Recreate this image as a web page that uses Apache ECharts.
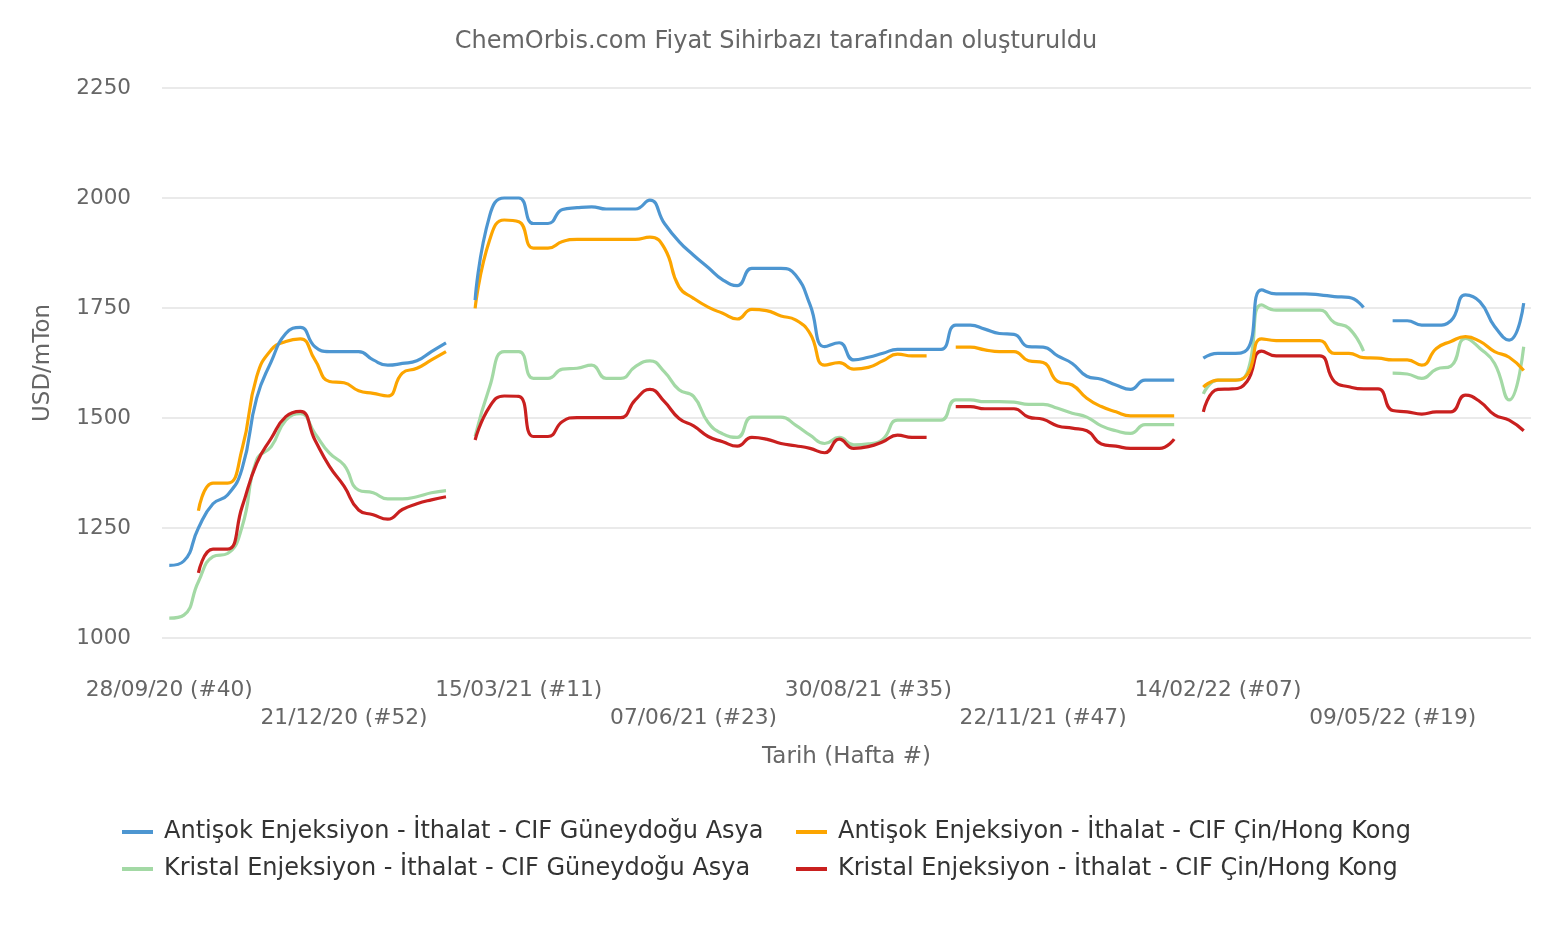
<!DOCTYPE html>
<html>
<head>
<meta charset="utf-8">
<script src="https://cdn.jsdelivr.net/npm/echarts@6/dist/echarts.min.js"></script>
<style>
html,body{margin:0;padding:0;background:#fff;}
#chart{width:1552px;height:930px;}
</style>
</head>
<body>
<div id="chart"></div>
<script>
// Weekly categories: start 28/09/2020, 94 weeks
var startDate = Date.UTC(2020, 8, 28);
var weekCount = 94;

var seriesNames = [
  'Antişok Enjeksiyon - İthalat - CIF Güneydoğu Asya',
  'Antişok Enjeksiyon - İthalat - CIF Çin/Hong Kong',
  'Kristal Enjeksiyon - İthalat - CIF Güneydoğu Asya',
  'Kristal Enjeksiyon - İthalat - CIF Çin/Hong Kong'
];

var antisokAsya = [
  1165,1175,1250,1305,1325,1385,1545,1628,1692,1706,
  1662,1651,1651,1651,1632,1620,1624,1630,1651,1671,
  null,1768,1960,2000,2000,1942,1942,1974,1978,1980,
  1975,1975,1975,1995,1942,1901,1870,1842,1814,1801,
  1840,1840,1840,1825,1757,1662,1671,1632,1638,1647,
  1656,1656,1656,1656,1711,1711,1702,1692,1690,1662,
  1661,1641,1624,1595,1588,1575,1565,1586,1586,1586,
  null,1636,1647,1647,1655,1791,1782,1782,1782,1780,
  1776,1774,1751,null,1721,1721,1711,1711,1721,1780,
  1764,1708,1677,1761
];

var antisokCin = [
  null,null,1289,1352,1352,1430,1594,1655,1674,1680,
  1632,1583,1580,1562,1556,1550,1602,1613,1632,1651,
  null,1749,1905,1950,1946,1886,1886,1901,1906,1906,
  1906,1906,1906,1911,1886,1798,1772,1752,1738,1725,
  1747,1744,1732,1723,1692,1620,1626,1611,1615,1630,
  1645,1641,1641,null,1661,1661,1655,1651,1651,1630,
  1626,1583,1575,1545,1526,1514,1505,1505,1505,1505,
  null,1570,1586,1586,1598,1680,1676,1676,1676,1676,
  1647,1647,1637,1636,1632,1632,1620,1658,1674,1685,
  1674,1651,1638,1608
];

var kristalAsya = [
  1045,1052,1128,1185,1192,1253,1405,1435,1495,1510,
  1465,1420,1393,1336,1330,1316,1316,1321,1330,1335,
  null,1458,1571,1651,1651,1590,1590,1611,1613,1620,
  1590,1590,1617,1630,1605,1564,1549,1490,1464,1456,
  1502,1502,1502,1484,1461,1442,1456,1439,1441,1452,
  1495,1495,1495,1495,1541,1541,1537,1537,1536,1531,
  1531,1522,1511,1502,1482,1471,1465,1485,1485,1485,
  null,1555,1586,1586,1602,1757,1745,1745,1745,1745,
  1717,1704,1652,null,1602,1600,1590,1611,1618,1681,
  1658,1624,1541,1662
];

var kristalCin = [
  null,null,1148,1202,1202,1298,1397,1454,1503,1515,
  1450,1390,1345,1291,1280,1270,1292,1305,1314,1321,
  null,1450,1526,1550,1549,1458,1458,1492,1501,1501,
  1501,1501,1541,1565,1537,1499,1482,1458,1446,1436,
  1456,1452,1442,1437,1431,1421,1452,1431,1435,1446,
  1461,1456,1456,null,1526,1526,1521,1521,1521,1502,
  1497,1482,1477,1471,1441,1436,1431,1431,1431,1452,
  null,1514,1565,1566,1583,1652,1641,1641,1641,1641,
  1583,1571,1566,1566,1517,1514,1509,1514,1514,1552,
  1537,1507,1495,1471
];

var yTicks = [1000, 1250, 1500, 1750, 2000, 2250];

function isoWeek(ms) {
  var t = new Date(ms);
  var day = t.getUTCDay() || 7;
  t.setUTCDate(t.getUTCDate() + 4 - day);
  var y0 = Date.UTC(t.getUTCFullYear(), 0, 1);
  return Math.ceil(((t.getTime() - y0) / 86400000 + 1) / 7);
}
function pad(n) { return (n < 10 ? '0' : '') + n; }
var categories = [];
for (var i = 0; i < weekCount; i++) {
  var ms = startDate + i * 7 * 86400000;
  var d = new Date(ms);
  categories.push(pad(d.getUTCDate()) + '/' + pad(d.getUTCMonth() + 1) + '/' +
    String(d.getUTCFullYear()).slice(2) + ' (#' + pad(isoWeek(ms)) + ')');
}

var colors = ['#4d96d1', '#fca500', '#a3d9a5', '#c9201f'];
var dataSets = [antisokAsya, antisokCin, kristalAsya, kristalCin];

var legendPos = [
  {left: 122, top: 820},
  {left: 796, top: 820},
  {left: 122, top: 857},
  {left: 796, top: 857}
];

var chart = echarts.init(document.getElementById('chart'), null, {renderer: 'canvas'});
var fontFam = 'DejaVu Sans';

var option = {
  animation: false,
  backgroundColor: '#ffffff',
  color: colors,
  textStyle: {fontFamily: fontFam},
  title: {
    text: 'ChemOrbis.com Fiyat Sihirbazı tarafından oluşturuldu',
    left: 'center',
    top: 25,
    textStyle: {color: '#666666', fontSize: 24, fontWeight: 'normal', fontFamily: fontFam}
  },
  legend: legendPos.map(function (p, k) {
    return {
      data: [seriesNames[k]],
      left: p.left,
      top: p.top,
      padding: 0,
      icon: 'rect',
      itemWidth: 31,
      itemHeight: 4,
      selectedMode: false,
      textStyle: {color: '#333333', fontSize: 24, fontFamily: fontFam, padding: [0, 0, 0, 6]}
    };
  }),
  grid: {left: 162, right: 21, top: 88, bottom: 292, containLabel: false},
  xAxis: {
    type: 'category',
    data: categories,
    boundaryGap: true,
    name: 'Tarih (Hafta #)',
    nameLocation: 'middle',
    nameGap: 108,
    nameTextStyle: {color: '#666666', fontSize: 23, fontFamily: fontFam},
    axisLine: {show: false},
    axisTick: {show: false},
    splitLine: {show: false},
    axisLabel: {
      interval: 11,
      margin: 38,
      color: '#666666',
      fontSize: 21.7,
      lineHeight: 28,
      fontFamily: fontFam,
      formatter: function (v, idx) {
        return (Math.floor(idx / 12) % 2 === 1) ? '\n' + v : v;
      }
    }
  },
  yAxis: {
    type: 'value',
    min: yTicks[0],
    max: yTicks[yTicks.length - 1],
    interval: 250,
    name: 'USD/mTon',
    nameLocation: 'middle',
    nameGap: 107,
    nameTextStyle: {color: '#666666', fontSize: 23, fontFamily: fontFam},
    axisLine: {show: false},
    axisTick: {show: false},
    axisLabel: {
      color: '#666666', fontSize: 21.5, margin: 31, fontFamily: fontFam,
      formatter: function (v) { return String(v); }
    },
    splitLine: {lineStyle: {color: '#e3e3e3', width: 1.5}}
  },
  series: dataSets.map(function (arr, k) {
    return {
      name: seriesNames[k],
      type: 'line',
      data: arr,
      smooth: 0.5,
      showSymbol: false,
      symbol: 'none',
      connectNulls: false,
      lineStyle: {width: 3.2, color: colors[k]},
      itemStyle: {color: colors[k]},
      z: [4, 3, 1, 2][k]
    };
  })
};
chart.setOption(option);
</script>
</body>
</html>
